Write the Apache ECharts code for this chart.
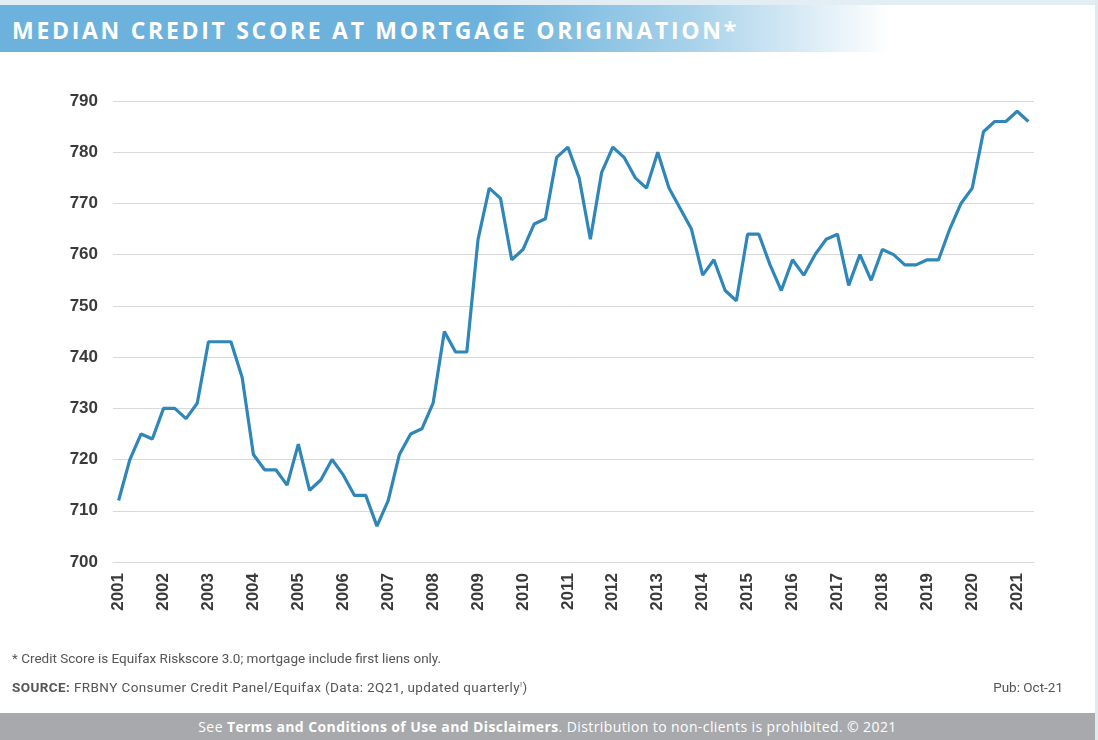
<!DOCTYPE html>
<html>
<head>
<meta charset="utf-8">
<script src="https://cdn.jsdelivr.net/npm/echarts@6/dist/echarts.min.js"></script>
<style>
  body { margin: 0; background: #fff; }
  #wrap { position: relative; width: 1098px; height: 740px; overflow: hidden; }
  #chart { position: absolute; left: 0; top: 0; width: 1098px; height: 740px; }
  .topstrip { position: absolute; left: 0; top: 0; width: 1098px; height: 5px; background: #e3edf4; }
  .sidestrip { position: absolute; right: 0; top: 0; width: 3px; height: 740px; background: #dfeaf2; }
  .banner { position: absolute; left: 0; top: 5px; width: 890px; height: 47px;
    background: linear-gradient(to right, #6cb2dc 0%, #6cb2dc 55%, #a9d2ea 78%, #ffffff 100%); }
  .banner span { position: absolute; left: 12px; top: 9px; color: #fff; font-family: "Open Sans", sans-serif;
    font-weight: 700; font-size: 23px; letter-spacing: 2.7px; }
  .note { position: absolute; left: 12px; font-family: "Liberation Sans Narrow", "Roboto", sans-serif;
    font-size: 13.5px; color: #555; }
  .pub { position: absolute; right: 35px; top: 679px; font-family: "Liberation Sans Narrow", "Roboto", sans-serif;
    font-size: 13.5px; color: #555; }
  .footer { position: absolute; left: 0; top: 713px; width: 1095px; height: 27px; background: #a7a9ac;
    color: #fff; text-align: center; line-height: 27px; font-family: "Open Sans", sans-serif; font-size: 14px;
    letter-spacing: 0.4px; }
</style>
</head>
<body>
<div id="wrap">
  <div id="chart"></div>
  <div class="topstrip"></div>
  <div class="sidestrip"></div>
  <div class="banner"><span>MEDIAN CREDIT SCORE AT MORTGAGE ORIGINATION*</span></div>
  <div class="note" style="top:650px">* Credit Score is Equifax Riskscore 3.0; mortgage include first liens only.</div>
  <div class="note" style="top:679px; letter-spacing:0.4px"><b>SOURCE:</b> FRBNY Consumer Credit Panel/Equifax (Data: 2Q21, updated quarterly<sup style="font-size:8px">!</sup>)</div>
  <div class="pub">Pub: Oct-21</div>
  <div class="footer">See <b>Terms and Conditions of Use and Disclaimers</b>. Distribution to non-clients is prohibited. © 2021</div>
</div>
<script>
// quarterly, 2001Q1 .. 2021Q2
const quarters = [];
for (let y = 2001; y <= 2021; y++) {
  for (let q = 1; q <= 4; q++) {
    if (y === 2021 && q > 2) break;
    quarters.push(y + "Q" + q);
  }
}

const creditScore = [
  712, 720, 725, 724, 730, 730, 728, 731,   // 2001-2002
  743, 743, 743, 736, 721, 718, 718, 715,   // 2003-2004
  723, 714, 716, 720, 717, 713, 713, 707,   // 2005-2006
  712, 721, 725, 726, 731, 745, 741, 741,   // 2007-2008
  763, 773, 771, 759, 761, 766, 767, 779,   // 2009-2010
  781, 775, 763, 776, 781, 779, 775, 773,   // 2011-2012
  780, 773, 769, 765, 756, 759, 753, 751,   // 2013-2014
  764, 764, 758, 753, 759, 756, 760, 763,   // 2015-2016
  764, 754, 760, 755, 761, 760, 758, 758,   // 2017-2018
  759, 759, 765, 770, 773, 784, 786, 786,   // 2019-2020
  788, 786                                  // 2021
];

const yTicks = { min: 700, max: 790, step: 10 };

let myChart = echarts.init(document.getElementById("chart"));
let option = {
  animation: false,
  grid: { left: 113, right: 64, top: 101, bottom: 178 },
  xAxis: {
    type: "category",
    data: quarters,
    boundaryGap: true,
    axisLine: { show: true, lineStyle: { color: "#d9d9d9" } },
    axisTick: { show: false },
    axisLabel: {
      interval: 3,
      rotate: 90,
      margin: 11,
      color: "#3a3a3a",
      fontFamily: "Liberation Sans, Arial, sans-serif",
      fontWeight: "bold",
      fontSize: 17,
      formatter: function (v) { return v.slice(0, 4); }
    }
  },
  yAxis: {
    type: "value",
    min: yTicks.min,
    max: yTicks.max,
    interval: yTicks.step,
    axisLine: { show: false },
    axisTick: { show: false },
    splitLine: { lineStyle: { color: "#d9d9d9", width: 1 } },
    axisLabel: {
      margin: 15,
      color: "#3a3a3a",
      fontFamily: "Liberation Sans, Arial, sans-serif",
      fontWeight: "bold",
      fontSize: 17
    }
  },
  series: [
    {
      type: "line",
      data: creditScore,
      symbol: "none",
      lineStyle: { color: "#2f87b9", width: 3.2 }
    }
  ]
};
myChart.setOption(option);
</script>
</body>
</html>
